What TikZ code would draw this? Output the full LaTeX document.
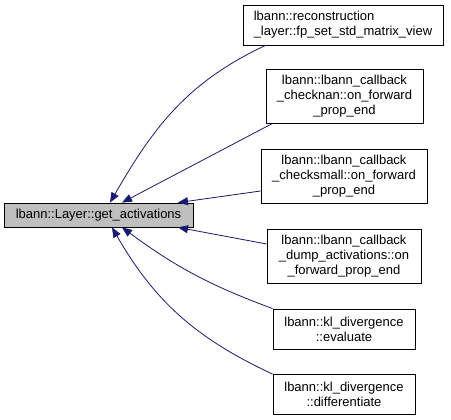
\documentclass[tikz,border=0pt]{standalone}
\usepackage{fontspec}
\setmainfont{Liberation Sans}
\usetikzlibrary{arrows.meta}
\definecolor{edgeblue}{HTML}{191970}
\definecolor{focusgray}{HTML}{BFBFBF}

\begin{document}
\begin{tikzpicture}[
  x=1pt, y=-1pt,
  box/.style={draw, inner sep=0pt, align=center, line width=0.8pt,
              font=\fontsize{13}{15}\selectfont},
  focus/.style={box, fill=focusgray, minimum width=189pt, minimum height=24pt},
  two/.style={box, minimum height=40pt},
  three/.style={box, minimum height=54pt},
  arr/.style={-{Triangle[length=10pt,width=8pt]}, edgeblue, line width=0.8pt}
]
  \useasboundingbox (0,0) rectangle (451,420);

  % Function of interest
  \node[focus] (getact) at (98.5,215) {lbann::Layer::get\_activations};

  % Callers
  \node[two, minimum width=200pt, align=left] (recon) at (343,25)
        {lbann::reconstruction\\\_layer::fp\_set\_std\_matrix\_view};
  \node[three, minimum width=157pt] (checknan) at (344.5,96.5)
        {lbann::lbann\_callback\\\_checknan::on\_forward\\\_prop\_end};
  \node[three, minimum width=166pt] (checksmall) at (344,176.5)
        {lbann::lbann\_callback\\\_checksmall::on\_forward\\\_prop\_end};
  \node[three, minimum width=154pt] (dump) at (344,256.5)
        {lbann::lbann\_callback\\\_dump\_activations::on\\\_forward\_prop\_end};
  \node[two, minimum width=142pt] (evaluate) at (344,329)
        {lbann::kl\_divergence\\::evaluate};
  \node[two, minimum width=142pt] (diff) at (344,394.5)
        {lbann::kl\_divergence\\::differentiate};

  \draw[arr] ([xshift=23pt]recon.south west) to[out=205, in=60]
             ([xshift=11.5pt]getact.north);
  \draw[arr] ([xshift=6pt]checknan.south west) -- ([xshift=23.5pt]getact.north);
  \draw[arr] ([yshift=-14.5pt]checksmall.west) -- ([xshift=79.5pt]getact.north);
  \draw[arr] ([yshift=12.5pt]dump.west) -- ([xshift=79.5pt]getact.south);
  \draw[arr] (evaluate.north west) to[bend left=8] ([xshift=23.5pt]getact.south);
  \draw[arr] (diff.north west) to[out=155, in=-60]
             ([xshift=13.5pt]getact.south);
\end{tikzpicture}
\end{document}
